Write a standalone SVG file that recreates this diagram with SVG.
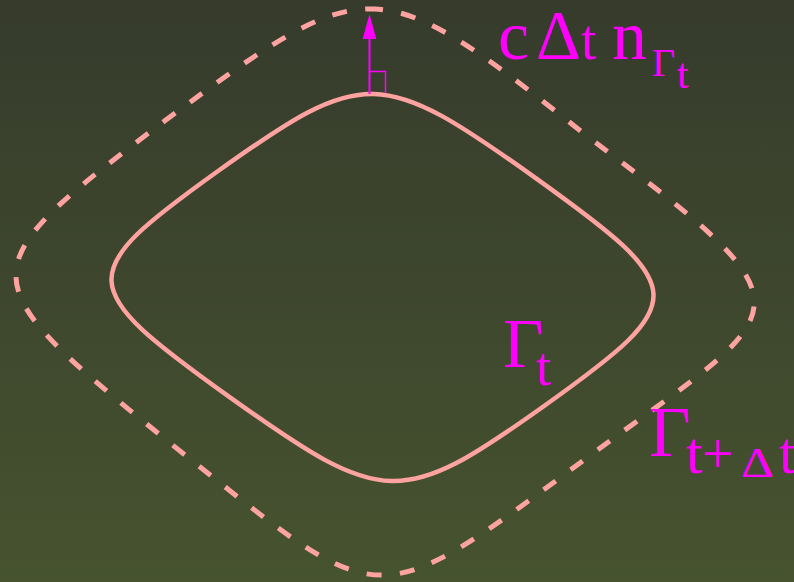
<svg xmlns="http://www.w3.org/2000/svg" width="794" height="582" viewBox="0 0 794 582">
  <defs>
    <linearGradient id="bg" x1="0" y1="0" x2="0" y2="1">
      <stop offset="0" stop-color="#363b2c"/>
      <stop offset="1" stop-color="#46532f"/>
    </linearGradient>
    <style>
      .curve { fill: none; stroke: #ffa3a0; }
      .solid { stroke-width: 4.5; }
      .dashed { stroke-width: 5; stroke-dasharray: 15 18.5; stroke-dashoffset: 6.5; }
      .lbl { fill: #ff00ff; font-family: "Liberation Serif", "Times New Roman", serif; }
      .mag { stroke: #ff00ff; fill: none; }
    </style>
  </defs>
  <rect x="0" y="0" width="794" height="582" fill="url(#bg)"/>

  <g id="gamma-t-curve">
    <path class="curve solid" d="M535.7,178.1 C690.7,288.9 691.3,300.9 546.2,404.5 C401.1,508.1 384.3,507.7 229.3,396.9 C74.3,286.1 73.7,274.1 218.8,170.5 C363.9,66.9 380.7,67.3 535.7,178.1 Z"/>
  </g>

  <g id="gamma-t-dt-curve">
    <path class="curve dashed" d="M374.5,9 C428.3,11.2 483,53.4 589,137.6 C824.8,314.4 793.4,305.1 588.7,456.5 C369.3,618.9 385.1,613.9 173,445.4 C-35.1,276.9 -35.2,271.7 165.5,120.3 C267.8,44.6 320.7,6.8 374.5,9 Z"/>
  </g>

  <g id="connectors">
    <g id="normal-arrow">
      <line class="mag" x1="369.5" y1="94" x2="369.5" y2="37" stroke-width="2"/>
      <polygon points="369.5,14 362.7,39 376.3,39" fill="#ff00ff"/>
      <polyline class="mag" points="369.5,71.5 385.5,71.5 385.5,93" stroke-width="1.5"/>
    </g>
  </g>

  <g id="label-normal">
    <text class="lbl" y="59"><tspan x="498" font-size="70">c</tspan><tspan x="536" font-size="70">Δ</tspan><tspan x="581" font-size="56">t</tspan><tspan x="612" font-size="70">n</tspan></text>
    <text class="lbl" x="652" y="76" font-size="40">Γ</text>
    <text class="lbl" x="677" y="88" font-size="42">t</text>
  </g>

  <g id="label-gamma-t">
    <text class="lbl" x="503" y="367" font-size="70">Γ</text>
    <text class="lbl" x="536" y="385" font-size="55">t</text>
  </g>

  <g id="label-gamma-t-dt">
    <text class="lbl" x="649" y="456" font-size="72">Γ</text>
    <text class="lbl" x="686" y="473" font-size="60">t</text>
    <text class="lbl" x="702" y="473" font-size="56">+</text>
    <text class="lbl" x="741" y="477" font-size="42" textLength="33" lengthAdjust="spacingAndGlyphs">Δ</text>
    <text class="lbl" x="779" y="473" font-size="60">t</text>
  </g>
</svg>
